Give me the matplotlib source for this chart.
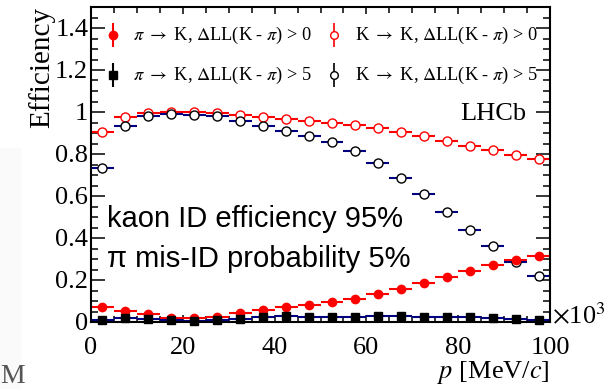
import numpy as np
import matplotlib.pyplot as plt
from matplotlib.ticker import MultipleLocator

# bin centres (MeV/c x10^3) and efficiencies
p = [2.5, 7.5, 12.5, 17.5, 22.5, 27.5, 32.5, 37.5, 42.5, 47.5,
     52.5, 57.5, 62.5, 67.5, 72.5, 77.5, 82.5, 87.5, 92.5, 97.5]
pi_k_dll0 = [0.073, 0.054, 0.038, 0.021, 0.018, 0.025, 0.041, 0.057, 0.072, 0.081,
             0.094, 0.110, 0.131, 0.156, 0.185, 0.214, 0.244, 0.270, 0.297, 0.316]
pi_k_dll5 = [0.010, 0.018, 0.016, 0.010, 0.003, 0.010, 0.012, 0.022, 0.027, 0.025,
             0.025, 0.025, 0.027, 0.027, 0.026, 0.026, 0.022, 0.020, 0.015, 0.010]
k_k_dll0 = [0.904, 0.976, 0.995, 1.000, 1.000, 0.995, 0.986, 0.976, 0.968, 0.958,
            0.949, 0.936, 0.922, 0.904, 0.885, 0.861, 0.839, 0.817, 0.796, 0.774]
k_k_dll5 = [0.735, 0.935, 0.979, 0.990, 0.987, 0.979, 0.957, 0.935, 0.911, 0.885,
            0.856, 0.813, 0.757, 0.687, 0.611, 0.525, 0.440, 0.360, 0.284, 0.220]
labels = [r'$\pi$ $\rightarrow$ K, $\Delta$LL(K - $\pi$) > 0',
          r'K $\rightarrow$ K, $\Delta$LL(K - $\pi$) > 0',
          r'$\pi$ $\rightarrow$ K, $\Delta$LL(K - $\pi$) > 5',
          r'K $\rightarrow$ K, $\Delta$LL(K - $\pi$) > 5']

plt.rcParams['font.family'] = 'Liberation Serif'
plt.rcParams['mathtext.fontset'] = 'stix'

fig = plt.figure(figsize=(6.07, 3.89), dpi=100)
# faint panel + stray letter at the left edge of the screenshot
fig.patches.append(plt.Rectangle((0, 0), 20/607, 1-148/389, transform=fig.transFigure,
                                 color='#fafafa', zorder=0))
fig.text(0.0, 0.0, 'M', color='#555555', fontsize=20, ha='left', va='bottom')

ax = fig.add_axes([91/607, 1-322/389, 459/607, 315/389])
xerr = 2.5
e1 = ax.errorbar(p, pi_k_dll0, xerr=xerr, fmt='o', color='red', ms=6, lw=1.5, capsize=0)
e2 = ax.errorbar(p, k_k_dll0, xerr=xerr, fmt='o', color='red', mfc='white', mec='red',
                 ms=6.5, lw=1.5, capsize=0)
e3 = ax.errorbar(p, pi_k_dll5, xerr=xerr, fmt='s', color='black', ecolor='navy', ms=6,
                 lw=1.5, capsize=0)
e4 = ax.errorbar(p, k_k_dll5, xerr=xerr, fmt='o', color='black', ecolor='navy',
                 mfc='white', mec='black', ms=6.5, lw=1.5, capsize=0)
for e in (e1, e3):
    e.lines[0].set_clip_on(False)
    e.lines[0].set_zorder(4)

# legend drawn by hand (ROOT style, vertical bars)
ax.errorbar([0.048], [0.911], yerr=0.037, fmt='o', color='red', ms=6, lw=1.5,
            transform=ax.transAxes, capsize=0)
ax.errorbar([0.529], [0.911], yerr=0.037, fmt='o', color='red', mfc='white', ms=5.5,
            lw=1.2, transform=ax.transAxes, capsize=0)
ax.errorbar([0.048], [0.784], yerr=0.037, fmt='s', color='black', ms=6, lw=1.5,
            transform=ax.transAxes, capsize=0)
ax.errorbar([0.529], [0.784], yerr=0.037, fmt='o', color='black', mfc='white', ms=5.5,
            lw=1.2, transform=ax.transAxes, capsize=0)
ax.text(0.0915, 0.911, labels[0], transform=ax.transAxes, fontsize=13.2, va='center')
ax.text(0.575, 0.911, labels[1], transform=ax.transAxes, fontsize=13.2, va='center')
ax.text(0.0915, 0.784, labels[2], transform=ax.transAxes, fontsize=13.2, va='center')
ax.text(0.575, 0.784, labels[3], transform=ax.transAxes, fontsize=13.2, va='center')

ax.text(0.948, 0.66, 'LHCb', transform=ax.transAxes, fontsize=19, ha='right', va='center')
ax.text(3.5, 0.49, 'kaon ID efficiency 95%', family='Liberation Sans', fontsize=21,
        va='center')
ax.text(3.5, 0.30, u'\u03c0 mis-ID probability 5%', family='Liberation Sans', fontsize=21,
        va='center')

ax.set_xlim(0, 100)
ax.set_ylim(0, 1.5)
ax.xaxis.set_major_locator(MultipleLocator(20))
ax.xaxis.set_minor_locator(MultipleLocator(5))
ax.yaxis.set_minor_locator(MultipleLocator(0.05))
ax.set_yticks([0, 0.2, 0.4, 0.6, 0.8, 1, 1.2, 1.4])
ax.set_yticklabels(['0', '0.2', '0.4', '0.6', '0.8', '1', '1.2', '1.4'])
ax.tick_params(which='both', direction='in', top=True, right=True, labelsize=19, width=1.1)
ax.tick_params(axis='y', which='major', length=10, pad=2)
ax.tick_params(axis='y', which='minor', length=5)
ax.tick_params(axis='x', which='major', length=5, pad=11)
ax.tick_params(axis='x', which='minor', length=4)
for s in ax.spines.values():
    s.set_linewidth(1.5)

ax.set_ylabel('Efficiency', fontsize=21, loc='top', labelpad=0)
ax.set_xlabel(r'$p$ [MeV/$c$]', fontsize=19, loc='right', labelpad=0)
ax.text(1.004, 0.017, r'$\times$10$^{3}$', transform=ax.transAxes, fontsize=19,
        va='center', ha='left')

fig.savefig('out.png', dpi=100)
